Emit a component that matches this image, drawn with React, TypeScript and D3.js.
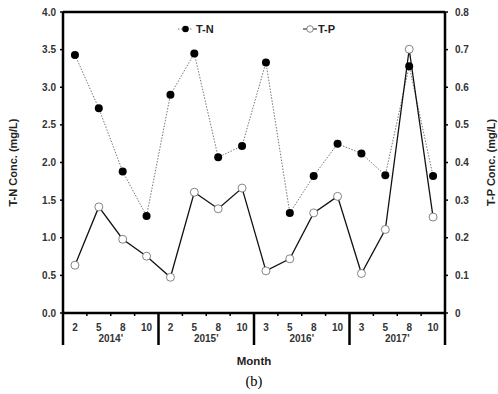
import React from "react";
import * as d3 from "d3";

const years = ["2014'", "2015'", "2016'", "2017'"];
const months = ["2", "5", "8", "10", "2", "5", "8", "10", "3", "5", "8", "10", "3", "5", "8", "10"];
const monthYear = [0, 0, 0, 0, 1, 1, 1, 1, 2, 2, 2, 2, 3, 3, 3, 3];
const tnValues = [3.43, 2.72, 1.88, 1.29, 2.9, 3.45, 2.07, 2.22, 3.33, 1.33, 1.82, 2.25, 2.12, 1.83, 3.28, 1.82];
const tpValues = [0.127, 0.282, 0.196, 0.151, 0.095, 0.321, 0.277, 0.332, 0.112, 0.144, 0.266, 0.31, 0.105, 0.222, 0.701, 0.255];
const leftTicks = [0, 0.5, 1, 1.5, 2, 2.5, 3, 3.5, 4];
const rightTicks = [0, 0.1, 0.2, 0.3, 0.4, 0.5, 0.6, 0.7, 0.8];

export default function App() {
  const W = 498, H = 394;
  const left = 63, right = 445, top = 12, bottom = 313;
  const idx = d3.range(months.length).map(String);
  const x = d3.scaleBand<string>().domain(idx).range([left, right]).padding(0);
  const yL = d3.scaleLinear().domain([0, 4]).range([bottom, top]);
  const yR = d3.scaleLinear().domain([0, 0.8]).range([bottom, top]);
  const cx = (i: number) => (x(String(i)) as number) + x.bandwidth() / 2;
  const tnLine = d3.line<number>().x((_, i) => cx(i)).y((d) => yL(d));
  const tpLine = d3.line<number>().x((_, i) => cx(i)).y((d) => yR(d));
  const font = "Arial, 'Liberation Sans', sans-serif";
  const bw = x.bandwidth();
  const groupEdges = years.map((_, g) => {
    const firstIdx = monthYear.indexOf(g);
    return x(String(firstIdx)) as number;
  });
  return (
    <svg width={W} height={H} style={{ position: "absolute", left: 0, top: 0 }} fontFamily={font}>
      <rect width={W} height={H} fill="#fff" />
      {/* frame */}
      <line x1={left} x2={right} y1={top} y2={top} stroke="#000" strokeWidth={2.5} />
      <line x1={left} x2={left} y1={top} y2={bottom} stroke="#000" strokeWidth={2.5} />
      <line x1={right} x2={right} y1={top} y2={bottom} stroke="#000" strokeWidth={2.5} />
      <line x1={left} x2={right} y1={bottom} y2={bottom} stroke="#000" strokeWidth={2.5} />
      {/* left ticks */}
      {leftTicks.map((t) => (
        <g key={"l" + t}>
          <line x1={left - 3} x2={left} y1={yL(t)} y2={yL(t)} stroke="#000" strokeWidth={1.5} />
          <text x={left - 7} y={yL(t)} dy="0.35em" textAnchor="end" fontSize={10} fontWeight="bold" fill="#333">
            {t.toFixed(1)}
          </text>
        </g>
      ))}
      {/* right ticks */}
      {rightTicks.map((t) => (
        <g key={"r" + t}>
          <line x1={right} x2={right + 3} y1={yR(t)} y2={yR(t)} stroke="#000" strokeWidth={1.5} />
          <text x={right + 10} y={yR(t)} dy="0.35em" textAnchor="start" fontSize={10} fontWeight="bold" fill="#333">
            {t === 0 ? "0" : t.toFixed(1)}
          </text>
        </g>
      ))}
      {/* bottom minor ticks */}
      {idx.slice(1).map((k) => {
        const i = +k;
        if (monthYear[i] !== monthYear[i - 1]) return null;
        const xx = x(k) as number;
        return <line key={"b" + k} x1={xx} x2={xx} y1={bottom} y2={bottom + 3} stroke="#000" strokeWidth={1.5} />;
      })}
      {/* group separators */}
      {[...groupEdges, right].map((gx, g) => (
        <line key={"g" + g} x1={gx} x2={gx} y1={bottom} y2={bottom + 32} stroke="#000" strokeWidth={2.5} />
      ))}
      {months.map((m, i) => (
        <text key={"m" + i} x={cx(i)} y={bottom + 18} textAnchor="middle" fontSize={10} fontWeight="bold" fill="#333">
          {m}
        </text>
      ))}
      {years.map((yv, g) => {
        const mid = groupEdges[g] + 2 * bw;
        return (
          <text key={"y" + g} x={mid} y={bottom + 29} textAnchor="middle" fontSize={10} fontWeight="bold" fill="#333">
            {yv}
          </text>
        );
      })}
      {/* lines */}
      <path d={tnLine(tnValues) || ""} fill="none" stroke="#777" strokeWidth={1} strokeDasharray="1.5,1.5" />
      <path d={tpLine(tpValues) || ""} fill="none" stroke="#111" strokeWidth={1.3} />
      {tpValues.map((v, i) => (
        <circle key={"p" + i} cx={cx(i)} cy={yR(v)} r={4} fill="#fff" stroke="#666" strokeWidth={0.8} />
      ))}
      {tnValues.map((v, i) => (
        <circle key={"n" + i} cx={cx(i)} cy={yL(v)} r={4} fill="#000" />
      ))}
      {/* legend */}
      <line x1={178} x2={193} y1={29} y2={29} stroke="#777" strokeWidth={1} strokeDasharray="1.5,1.5" />
      <circle cx={185.5} cy={29} r={3.3} fill="#000" />
      <text x={196} y={29} dy="0.35em" fontSize={11} fontWeight="bold" fill="#222">T-N</text>
      <line x1={303} x2={317} y1={29} y2={29} stroke="#111" strokeWidth={1} />
      <circle cx={310} cy={29} r={3.3} fill="#fff" stroke="#666" strokeWidth={0.8} />
      <text x={318} y={29} dy="0.35em" fontSize={11} fontWeight="bold" fill="#222">T-P</text>
      {/* axis titles */}
      <text transform={`translate(17,${(top + bottom) / 2}) rotate(-90)`} textAnchor="middle" fontSize={11} fontWeight="bold" fill="#222">
        T-N Conc. (mg/L)
      </text>
      <text transform={`translate(495,${(top + bottom) / 2}) rotate(-90)`} textAnchor="middle" fontSize={11} fontWeight="bold" fill="#222">
        T-P Conc. (mg/L)
      </text>
      <text x={254} y={365} textAnchor="middle" fontSize={11.5} fontWeight="bold" fill="#222">Month</text>
      <text x={254} y={386} textAnchor="middle" fontSize={14.5} fontFamily="'Liberation Serif', 'Times New Roman', serif" fill="#000">(b)</text>
    </svg>
  );
}
